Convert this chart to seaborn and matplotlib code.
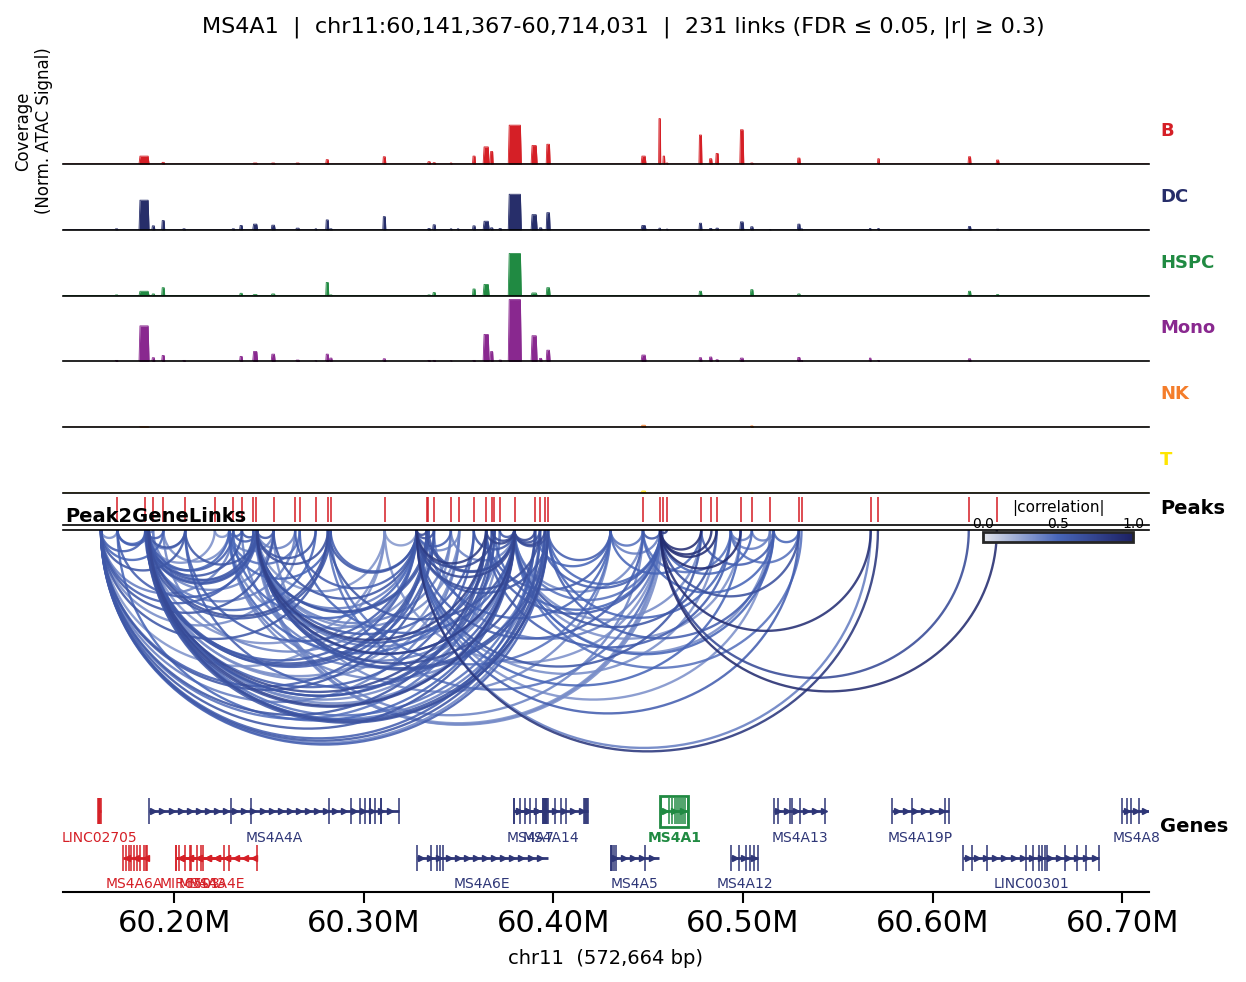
import numpy as np
import pandas as pd
import matplotlib
matplotlib.use("Agg")
import matplotlib.pyplot as plt
import matplotlib.colors as mcolors
from matplotlib.cm import ScalarMappable
from matplotlib.patches import Rectangle
import seaborn as sns

# ---------------- data ----------------
REGION_START, REGION_END = 60141367, 60714031

cell_types = ["B", "DC", "HSPC", "Mono", "NK", "T"]
cell_colors = ["#D51F26", "#272E6A", "#208A42", "#89288F", "#F47D2B", "#FEE500"]

# coverage bumps (centre in Mb, width in kb); heights per cell type (track = 1.0)
cov_centers = [60.1696, 60.1841, 60.1890, 60.1942, 60.2052, 60.2312, 60.2353, 60.2427,
               60.2522, 60.2651, 60.2747, 60.2807, 60.2826, 60.3108, 60.3344, 60.3371,
               60.3460, 60.3497, 60.3581, 60.3645, 60.3674, 60.3719, 60.3796, 60.3898,
               60.3932, 60.3972, 60.4475, 60.4560, 60.4582, 60.4599, 60.4775, 60.4829,
               60.4863, 60.4993, 60.5046, 60.5142, 60.5294, 60.5309, 60.5670, 60.5714,
               60.6194, 60.6342]
cov_widths = [1.6, 5.3, 1.6, 1.6, 1.6, 1.6, 1.6, 2.6, 2.1, 2.1, 1.1, 1.6, 1.6, 1.6,
              1.6, 1.6, 1.1, 1.1, 1.6, 3.2, 1.6, 1.6, 6.9, 3.2, 1.6, 2.1, 2.6, 1.1,
              1.1, 1.1, 1.6, 1.6, 1.6, 2.1, 1.6, 1.1, 1.6, 1.1, 1.1, 1.1, 1.6, 1.6]
cov_B = [0, .12, 0, .025, 0, 0, 0, .015, .015, .015, 0, .066, 0, .11, .035, .02, .015, 0,
         .12, .26, .19, 0, .59, .28, 0, .30, .12, .69, .12, .015, .44, .08, .16, .52, .015,
         0, .09, 0, 0, .08, .11, .06]
cov_DC = [.015, .45, .06, .14, .015, .015, .066, .086, .07, .025, .015, .15, .015, .20,
          .02, .076, .015, .015, .06, .13, .03, .02, .54, .23, .03, .26, .066, .025, 0,
          .01, .10, .02, .025, .12, .046, .005, .086, .015, .02, .02, .05, .01]
cov_HSPC = [.01, .066, .025, .12, 0, 0, .035, .015, .025, 0, 0, .20, .01, 0, .01, .046,
            0, 0, .10, .17, 0, 0, .64, .04, 0, .12, 0, 0, 0, 0, .066, 0, 0, 0, .09, 0,
            .025, 0, 0, 0, .066, .015]
cov_Mono = [.015, .54, .056, .09, .015, 0, .076, .15, .11, .02, .01, .11, .05, .04, .015,
            .015, .01, 0, .015, .41, .15, .02, .94, .39, .046, .17, .096, 0, 0, 0, .056,
            .066, .025, .05, 0, 0, .06, .015, .05, .015, .04, 0]
cov_NK = [0, .01, 0, 0, 0, 0, 0, 0, 0, 0, 0, 0, 0, 0, 0, 0, 0, 0, 0, 0, 0, 0, 0, 0, 0,
          0, .03, 0, 0, 0, 0, 0, 0, 0, .02, 0, 0, 0, 0, 0, 0, 0]
cov_T = [0, 0, 0, 0, 0, 0, 0, 0, 0, 0, 0, 0, 0, 0, 0, 0, 0, 0, 0, 0, 0, 0, 0, 0, 0,
         0, .03, 0, 0, 0, 0, 0, 0, 0, .01, 0, 0, 0, 0, 0, 0, 0]
coverage = [cov_B, cov_DC, cov_HSPC, cov_Mono, cov_NK, cov_T]

# peak set (Mb)
peaks = [60.1701, 60.1847, 60.1889, 60.1943, 60.2058, 60.2214, 60.2311, 60.2357,
         60.2418, 60.2431, 60.2524, 60.2638, 60.2662, 60.2746, 60.2811, 60.2825,
         60.3110, 60.3332, 60.3341, 60.3370, 60.3459, 60.3503, 60.3580, 60.3645,
         60.3675, 60.3689, 60.3717, 60.3796, 60.3903, 60.3929, 60.3955, 60.3971,
         60.4472, 60.4560, 60.4576, 60.4598, 60.4779, 60.4833, 60.4860, 60.4987,
         60.5046, 60.5142, 60.5294, 60.5308, 60.5673, 60.5711, 60.6190, 60.6338]

# genes (Mb)
gene_names = ["LINC02705", "MS4A4A", "MS4A6A", "MIR6503", "MS4A3", "MS4A4E", "MS4A6E",
              "MS4A7", "MS4A14", "MS4A5", "MS4A1", "MS4A12", "MS4A13", "MS4A19P",
              "LINC00301", "MS4A8"]
gene_start = [60.1598, 60.1866, 60.1729, 60.2080, 60.2012, 60.2012, 60.3279, 60.3793,
              60.3793, 60.4301, 60.4565, 60.4935, 60.5161, 60.5785, 60.6162, 60.7000]
gene_end = [60.1614, 60.3186, 60.1854, 60.2086, 60.2290, 60.2437, 60.3969, 60.3961,
            60.4182, 60.4557, 60.4709, 60.5081, 60.5434, 60.6086, 60.6876, 60.7146]
gene_strand = ["-", "+", "-", "-", "-", "-", "+", "+", "+", "+", "+", "+", "+", "+", "+", "+"]
gene_row = [0, 0, 1, 1, 1, 1, 1, 0, 0, 1, 0, 1, 0, 0, 1, 0]
gene_exons = [
    [60.1598, 60.1602, 60.1606, 60.1610, 60.1614],
    [60.1866, 60.2302, 60.2405, 60.2815, 60.2930, 60.2980, 60.3007, 60.3031, 60.3033,
     60.3057, 60.3091, 60.3093, 60.3186],
    [60.1729, 60.1745, 60.1760, 60.1773, 60.1790, 60.1806, 60.1822, 60.1840, 60.1850, 60.1854],
    [60.2083],
    [60.2012, 60.2024, 60.2056, 60.2088, 60.2122, 60.2143, 60.2153],
    [60.2012, 60.2264, 60.2288, 60.2437],
    [60.3279, 60.3354, 60.3384, 60.3404, 60.3420],
    [60.3793, 60.3824, 60.3850, 60.3877, 60.3908, 60.3945, 60.3955, 60.3961],
    [60.3793, 60.3945, 60.3950, 60.3955, 60.3960, 60.3966, 60.3972, 60.4009, 60.4040,
     60.4066, 60.4161, 60.4166, 60.4171, 60.4176, 60.4182],
    [60.4301, 60.4305, 60.4309, 60.4320, 60.4330, 60.4483],
    [60.4565, 60.4610, 60.4625, 60.4641, 60.4652, 60.4662, 60.4673, 60.4683, 60.4694, 60.4709],
    [60.4935, 60.4978, 60.5014, 60.5036, 60.5059, 60.5081],
    [60.5161, 60.5182, 60.5246, 60.5257, 60.5300, 60.5434],
    [60.5785, 60.5892, 60.6064, 60.6086],
    [60.6162, 60.6209, 60.6286, 60.6491, 60.6528, 60.6560, 60.6574, 60.6592, 60.6603,
     60.6699, 60.6760, 60.6807, 60.6876],
    [60.7000, 60.7022, 60.7044, 60.7087],
]
focus_gene = "MS4A1"

# peak-to-gene links: gene -> (peak index, |r|)
p2g_links = {
    "LINC02705": [(0, .35), (1, .55), (3, .5), (4, .6), (6, .4), (8, .55), (10, .6), (12, .35),
                  (14, .6), (16, .32), (17, .55), (19, .6), (21, .4), (23, .6), (25, .45),
                  (27, .6), (28, .55), (29, .6), (30, .38), (31, .55)],
    "MS4A6A": [(0, .5), (3, .55), (4, .38), (5, .33), (7, .6), (9, .55), (11, .4), (15, .6),
               (18, .6), (20, .35), (22, .55), (24, .6), (26, .36), (27, .65), (29, .4), (31, .6)],
    "MS4A4A": [(0, .55), (2, .4), (4, .6), (6, .55), (8, .6), (10, .38), (13, .5), (14, .65),
               (16, .33), (17, .6), (19, .55), (21, .35), (23, .7), (25, .6), (27, .7),
               (28, .45), (30, .6), (31, .65)],
    "MS4A3": [(1, .5), (3, .35), (5, .32), (7, .5), (10, .38), (12, .45), (15, .5), (19, .34),
              (23, .5), (27, .4), (29, .36)],
    "MS4A4E": [(0, .55), (1, .6), (2, .4), (4, .6), (6, .55), (7, .6), (10, .6), (11, .38),
               (13, .6), (14, .65), (16, .32), (17, .6), (18, .6), (20, .4), (21, .35),
               (22, .55), (23, .75), (24, .6), (26, .4), (27, .75), (28, .65), (30, .6),
               (31, .6), (32, .38), (33, .33), (34, .35)],
    "MS4A6E": [(1, .55), (3, .38), (4, .55), (6, .5), (8, .4), (10, .6), (11, .55), (14, .6),
               (15, .55), (16, .3), (17, .7), (19, .65), (20, .55), (21, .36), (23, .8),
               (25, .7), (27, .7), (29, .65), (31, .6), (32, .55), (36, .6), (38, .34),
               (39, .5), (41, .33), (42, .55), (44, .4), (45, .85)],
    "MS4A7": [(0, .5), (2, .35), (4, .55), (7, .4), (9, .55), (12, .5), (14, .6), (17, .65),
              (18, .6), (20, .38), (22, .6), (23, .75), (24, .7), (26, .6), (28, .7), (29, .65),
              (30, .7), (31, .65), (32, .36), (36, .35), (38, .6), (39, .33), (41, .35), (43, .45)],
    "MS4A5": [(10, .36), (15, .45), (17, .5), (23, .55), (28, .5), (31, .55), (32, .45),
              (33, .4), (36, .5)],
    "MS4A1": [(9, .34), (14, .45), (16, .33), (19, .4), (23, .55), (25, .5), (27, .45),
              (29, .55), (31, .5), (32, .6), (35, .8), (36, .9), (37, .88), (38, .9),
              (39, .9), (40, .5), (42, .65), (44, .9), (46, .7), (47, .92)],
    "MS4A12": [(23, .55), (31, .5), (32, .45), (40, .4), (41, .4), (42, .45)],
    "MS4A13": [(27, .5), (31, .55), (32, .5), (36, .55), (40, .4), (42, .5)],
}

# ---------------- layout helpers ----------------
W, H = 1246, 982
X0, X1 = 63, 1149
bp_per_px = (REGION_END - REGION_START) / (X1 - X0)


def px_box(x0, y0, x1, y1):
    return [x0 / W, 1 - y1 / H, (x1 - x0) / W, (y1 - y0) / H]


sns.set_theme(style="white")
plt.rcParams["font.family"] = ["DejaVu Sans"]
plt.rcParams["text.color"] = "black"
plt.rcParams["axes.labelcolor"] = "black"
plt.rcParams["xtick.color"] = "black"
plt.rcParams["ytick.color"] = "black"

fig = plt.figure(figsize=(W / 100, H / 100), dpi=100)
fig.suptitle("MS4A1  |  chr11:60,141,367-60,714,031  |  231 links (FDR \u2264 0.05, |r| \u2265 0.3)",
             fontsize=16, y=1 - 27 / H, va="center")

# ---------------- coverage tracks ----------------
track_h = 65.8
track_axes = []
for i, (name, col, heights) in enumerate(zip(cell_types, cell_colors, coverage)):
    bottom = 164 + track_h * i
    ax = fig.add_axes(px_box(X0, bottom - track_h, X1, bottom))
    xs, ys = [REGION_START], [0.0]
    for c, w, h in zip(cov_centers, cov_widths, heights):
        if h <= 0:
            continue
        c = c * 1e6
        half = w * 500
        ramp = min(half * 0.35, 500)
        xs += [c - half, c - half + ramp, c + half - ramp, c + half]
        ys += [0, h, h, 0]
    xs.append(REGION_END)
    ys.append(0.0)
    ax.fill_between(xs, ys, color=col, lw=0)
    ax.plot(xs, ys, color=col, lw=0.6)
    ax.set_xlim(REGION_START, REGION_END)
    ax.set_ylim(0, 1.0)
    ax.set_xticks([])
    ax.set_yticks([])
    sns.despine(ax=ax, left=True, top=True, right=True)
    ax.spines["bottom"].set_color("black")
    ax.spines["bottom"].set_linewidth(1.2)
    ax.patch.set_alpha(0)
    ax.text((1160 - X0) / (X1 - X0), 0.5, name, transform=ax.transAxes, color=col,
            fontsize=13, fontweight="bold", va="center", ha="left")
    track_axes.append(ax)

track_axes[0].set_ylabel("Coverage\n(Norm. ATAC Signal)", fontsize=12)
track_axes[0].yaxis.set_label_coords(-0.009, 0.5)

# ---------------- peaks track ----------------
ax_pk = fig.add_axes(px_box(X0, 493, X1, 525))
ax_pk.vlines(np.array(peaks) * 1e6, 0.1, 0.875, color="#D51F26", lw=1.4, alpha=0.8)
ax_pk.set_xlim(REGION_START, REGION_END)
ax_pk.set_ylim(0, 1)
ax_pk.set_xticks([])
ax_pk.set_yticks([])
sns.despine(ax=ax_pk, left=True, top=True, right=True)
ax_pk.spines["bottom"].set_color("black")
ax_pk.spines["bottom"].set_linewidth(1.2)
ax_pk.patch.set_alpha(0)
ax_pk.text((1160 - X0) / (X1 - X0), 0.5, "Peaks", transform=ax_pk.transAxes,
           fontsize=14, fontweight="bold", va="center", ha="left")

# ---------------- peak2gene links ----------------
cmap = mcolors.LinearSegmentedColormap.from_list("corr", ["#e2e5ec", "#4866b8", "#1d2163"])
norm = mcolors.Normalize(0, 1)

gene_tss = {}
for n, s, e, st in zip(gene_names, gene_start, gene_end, gene_strand):
    gene_tss[n] = (e if st == "-" else s) * 1e6

t = np.linspace(0, np.pi, 80)
rows = []
link_id = 0
for gname, lst in p2g_links.items():
    for pidx, r in lst:
        a, b = sorted([gene_tss[gname], peaks[pidx] * 1e6])
        mid, half = (a + b) / 2, (b - a) / 2
        depth = 0.48 * (b - a)
        for tt in t:
            rows.append((link_id, r, mid + half * np.cos(tt), -depth * np.sin(tt)))
        link_id += 1
arcs = pd.DataFrame(rows, columns=["link", "r", "x", "y"])

ax_ln = fig.add_axes(px_box(X0, 530, X1, 785))
sns.lineplot(data=arcs, x="x", y="y", hue="r", units="link", estimator=None, sort=False,
             palette=cmap, hue_norm=norm, legend=False, linewidth=1.7, alpha=0.88, ax=ax_ln)
ax_ln.set_xlim(REGION_START, REGION_END)
ax_ln.set_ylim(-255 * bp_per_px, 0)
ax_ln.set_xticks([])
ax_ln.set_yticks([])
ax_ln.set_xlabel("")
ax_ln.set_ylabel("")
sns.despine(ax=ax_ln, left=True, bottom=True, right=True, top=False)
ax_ln.spines["top"].set_color("black")
ax_ln.spines["top"].set_linewidth(1.2)
ax_ln.patch.set_alpha(0)
fig.text(65 / W, 1 - 516 / H, "Peak2GeneLinks", fontsize=14, fontweight="bold",
         ha="left", va="center", zorder=10)

cax = fig.add_axes(px_box(983, 532, 1133, 542))
cb = fig.colorbar(ScalarMappable(norm=norm, cmap=cmap), cax=cax, orientation="horizontal")
cb.set_ticks([0, 0.5, 1.0])
cb.set_ticklabels(["0.0", "0.5", "1.0"])
cax.xaxis.set_ticks_position("top")
cax.xaxis.set_label_position("top")
cax.tick_params(axis="x", labelsize=10, length=4, width=1, pad=1, direction="in")
cb.set_label("|correlation|", fontsize=11, labelpad=3)
cb.outline.set_linewidth(2)

# ---------------- genes ----------------
ax_g = fig.add_axes(px_box(X0, 792, X1, 892))
row_y = [19, 66]
label_y = [46, 92]
arrow_step = 4800
for n, s, e, st, rw, ex in zip(gene_names, gene_start, gene_end, gene_strand, gene_row, gene_exons):
    s, e = s * 1e6, e * 1e6
    if n == focus_gene:
        col = "#208A42"
    else:
        col = "#D51F26" if st == "-" else "#2E3677"
    y = row_y[rw]
    ax_g.plot([s, e], [y, y], color=col, lw=2, solid_capstyle="butt")
    ax_g.vlines(np.array(ex) * 1e6, y - 13, y + 13, color=col, lw=1.1)
    if e - s > arrow_step:
        ax_pos = np.arange(s + arrow_step / 2, e, arrow_step)
        ax_g.plot(ax_pos, [y] * len(ax_pos), ls="none", marker=">" if st == "+" else "<",
                  ms=4.5, color=col, mec=col)
    ax_g.text((s + e) / 2, label_y[rw], n, color=col, fontsize=10, ha="center", va="center",
              fontweight="bold" if n == focus_gene else "normal", clip_on=False)
    if n == focus_gene:
        ax_g.add_patch(Rectangle((s - 250, 4), (e - s) + 500, 31, fill=False, ec=col, lw=2))

ax_g.set_xlim(REGION_START, REGION_END)
ax_g.set_ylim(100, 0)
ax_g.set_yticks([])
ticks = [60.2e6, 60.3e6, 60.4e6, 60.5e6, 60.6e6, 60.7e6]
ax_g.set_xticks(ticks)
ax_g.set_xticklabels([f"{v / 1e6:.2f}M" for v in ticks], fontsize=22)
ax_g.tick_params(axis="x", length=8, width=1.5, bottom=True, color="black", pad=4)
sns.despine(ax=ax_g, left=True, top=True, right=True)
ax_g.spines["bottom"].set_color("black")
ax_g.spines["bottom"].set_linewidth(1.5)
ax_g.patch.set_alpha(0)
ax_g.set_xlabel("chr11  (572,664 bp)", fontsize=14, labelpad=8)
ax_g.text((1160 - X0) / (X1 - X0), 34, "Genes", transform=ax_g.get_yaxis_transform(),
          fontsize=14, fontweight="bold", va="center", ha="left")

fig.savefig("out.png", dpi=100)
plt.close(fig)
